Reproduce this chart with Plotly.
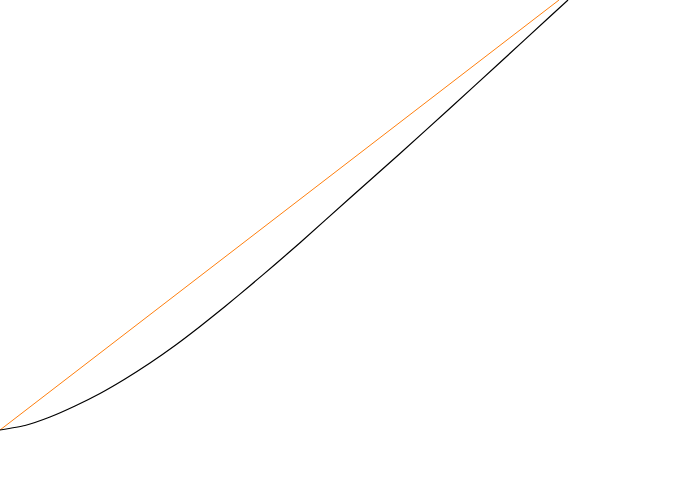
import plotly.graph_objects as go

# equality line
equal_x = [0.0, 1.0]
equal_y = [0.0, 1.0]

curve_x = [0.0, 0.0447, 0.0894, 0.1342, 0.1789, 0.2236, 0.2683, 0.3131, 0.3578, 0.4025,
           0.4472, 0.4919, 0.5367, 0.6261, 0.7156, 0.8050, 0.8945, 0.9839, 1.0161]
curve_y = [0.0, 0.0105, 0.0302, 0.0558, 0.0849, 0.1186, 0.1558, 0.1965, 0.2407, 0.2872,
           0.3355, 0.3849, 0.4355, 0.5395, 0.6430, 0.7483, 0.8547, 0.9616, 1.0]

fig = go.Figure()
fig.add_trace(go.Scatter(x=equal_x, y=equal_y, mode="lines",
                         line=dict(color="#ff7f0e", width=1), showlegend=False))
fig.add_trace(go.Scatter(x=curve_x, y=curve_y, mode="lines",
                         line=dict(color="black", width=1.2, shape="spline", smoothing=0.6),
                         showlegend=False))

fig.update_layout(
    width=690, height=500, margin=dict(l=0, r=0, t=0, b=0),
    plot_bgcolor="white", paper_bgcolor="white",
    xaxis=dict(range=[0, 1.2343], visible=False, fixedrange=True),
    yaxis=dict(range=[-0.1628, 1.0], visible=False, fixedrange=True),
)

# page body has a default 8px margin; drop it so the plot sits at the corner
fig.write_html("out.html", config={"displayModeBar": False},
               post_script="document.body.style.margin='0';")
